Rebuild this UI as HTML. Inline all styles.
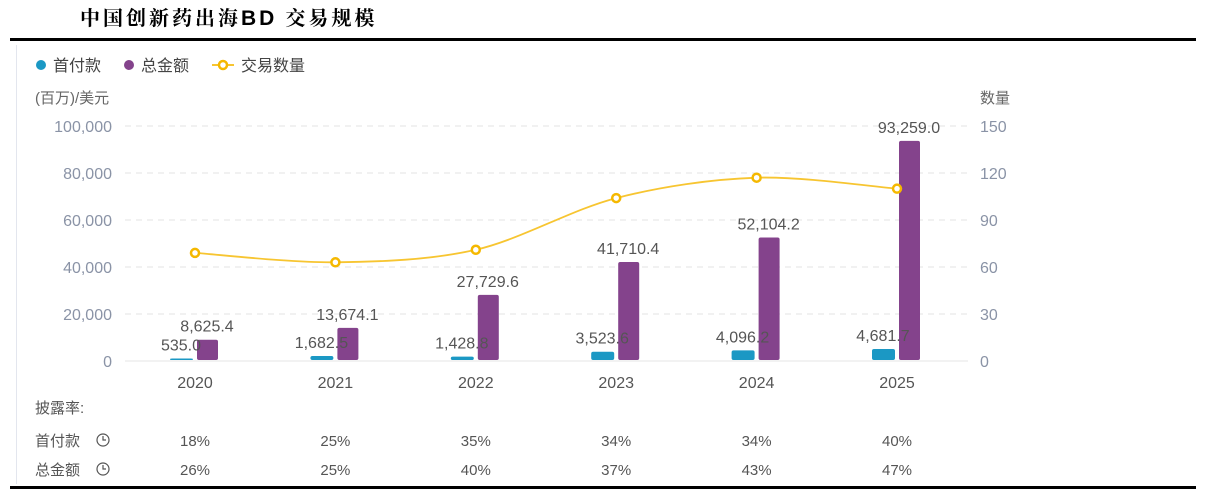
<!DOCTYPE html>
<html><head><meta charset="utf-8">
<style>
body{margin:0;width:1213px;height:497px;background:#fff;overflow:hidden;font-family:"Liberation Sans","Noto Sans CJK SC",sans-serif;}
svg text{font-family:"Liberation Sans","Noto Sans CJK SC",sans-serif;}
</style></head><body>
<svg id="c" width="1213" height="497">
<text x="80" y="25" font-size="20" font-weight="bold" fill="#000" style="font-family:'Noto Serif CJK SC',serif" letter-spacing="3">中国创新药出海<tspan style="font-family:'Liberation Sans',sans-serif" font-size="21">BD</tspan> 交易规模</text>
<rect x="10" y="38" width="1186" height="3" fill="#000"/>
<rect x="10" y="486" width="1186" height="3" fill="#000"/>
<line x1="16.5" y1="45" x2="16.5" y2="484" stroke="#e3e6ee"/>
<g font-size="16" fill="#444">
<circle cx="41" cy="65" r="5" fill="#1b98c4"/>
<text x="53" y="71">首付款</text>
<circle cx="129" cy="65" r="5" fill="#84438c"/>
<text x="141" y="71">总金额</text>
<line x1="212" y1="65" x2="234" y2="65" stroke="#f7c531" stroke-width="2"/>
<circle cx="223" cy="65" r="4" fill="#fff" stroke="#f5b800" stroke-width="2.5"/>
<text x="241" y="71">交易数量</text>
</g>
<text x="35" y="103" font-size="15" fill="#666">(百万)/美元</text>
<text x="980" y="103" font-size="15" fill="#666">数量</text>
<g id="grid"></g><g id="bars"></g><g id="line"></g><g id="labels"></g>
<g font-size="15" fill="#555">
<text x="35" y="413">披露率:</text>
<text x="35" y="446">首付款</text>
<text x="35" y="475">总金额</text>
<g fill="none" stroke="#555" stroke-width="1.2">
<circle cx="103" cy="440" r="6"/><path d="M103 436v4h3"/>
<circle cx="103" cy="469" r="6"/><path d="M103 465v4h3"/>
</g>
</g>
<g id="table"></g>
</svg>
<script>
const categories=["2020","2021","2022","2023","2024","2025"];
const downPayment=[535.0,1682.5,1428.8,3523.6,4096.2,4681.7];
const totalAmount=[8625.4,13674.1,27729.6,41710.4,52104.2,93259.0];
const dealCount=[69,63,71,104,117,110];
const leftTicks=[0,20000,40000,60000,80000,100000];
const rightTicks=[0,30,60,90,120,150];
const dpRate=["18%","25%","35%","34%","34%","40%"];
const totalRate=["26%","25%","40%","37%","43%","47%"];

const NS="http://www.w3.org/2000/svg";
const y0=361,y1=126,x0=125,x1=968;
const yL=v=>y0-(v/100000)*(y0-y1);
const yR=v=>y0-(v/150)*(y0-y1);
const xC=i=>195+i*140.4;
function mk(tag,attrs,parent,txt){const e=document.createElementNS(NS,tag);for(const k in attrs)e.setAttribute(k,attrs[k]);if(txt!==undefined)e.textContent=txt;document.getElementById(parent).appendChild(e);return e;}
const fmt=v=>v.toLocaleString('en-US',{minimumFractionDigits:1,maximumFractionDigits:1});

leftTicks.forEach((t,i)=>{
  const y=yL(t);
  const l=mk('line',{x1:x0,x2:x1,y1:y,y2:y,stroke:t===0?'#e6e6e6':'#e3e3e3','stroke-dasharray':t===0?'':'6,5'},'grid');
  
  
  const a=mk('text',{x:112,y:y+6,'text-anchor':'end','font-size':16,fill:'#8a93a6'},'grid',t.toLocaleString('en-US'));
  
  
  const b=mk('text',{x:980,y:yR(rightTicks[i])+6,'font-size':16,fill:'#8a93a6'},'grid',String(rightTicks[i]));
  
  
});

categories.forEach((c,i)=>{
  const cx=xC(i);
  const hb=Math.max(1.5,y0-yL(downPayment[i]));
  const b=mk('rect',{x:cx-25,y:y0-hb-1,width:23,height:hb,rx:2,fill:'#1b98c4'},'bars');
  
  
  const hp=y0-yL(totalAmount[i]);
  const p=mk('rect',{x:cx+2,y:y0-hp-1,width:21,height:hp,rx:2,fill:'#84438c'},'bars');
  
  
  const tl=mk('text',{x:cx+12,y:y0-hp-9,'text-anchor':'middle','font-size':16,fill:'#555'},'labels',fmt(totalAmount[i]));
  
  
  const dl=mk('text',{x:cx-14,y:y0-hb-9,'text-anchor':'middle','font-size':16,fill:'#555'},'labels',fmt(downPayment[i]));
  
  
  const xl=mk('text',{x:cx,y:388,'text-anchor':'middle','font-size':16,fill:'#555'},'labels',c);
  
  
  const r1=mk('text',{x:cx,y:446,'text-anchor':'middle','font-size':15,fill:'#555'},'table',dpRate[i]);
  
  
  const r2=mk('text',{x:cx,y:475,'text-anchor':'middle','font-size':15,fill:'#555'},'table',totalRate[i]);
  
  
});

const pts=dealCount.map((v,i)=>[xC(i),yR(v)]);
let d='M'+pts[0][0]+','+pts[0][1];
for(let i=0;i<pts.length-1;i++){
  const p0=pts[Math.max(0,i-1)],p1=pts[i],p2=pts[i+1],p3=pts[Math.min(pts.length-1,i+2)];
  const t=0.16;
  const c1=[p1[0]+(p2[0]-p0[0])*t,p1[1]+(p2[1]-p0[1])*t];
  const c2=[p2[0]-(p3[0]-p1[0])*t,p2[1]-(p3[1]-p1[1])*t];
  d+=` C${c1[0]},${c1[1]} ${c2[0]},${c2[1]} ${p2[0]},${p2[1]}`;
}
const ln=mk('path',{d:d,fill:'none',stroke:'#f7c531','stroke-width':1.8},'line');


pts.forEach((p,i)=>{
  const m=mk('circle',{cx:p[0],cy:p[1],r:4,fill:'#fff',stroke:'#f5b800','stroke-width':2.5},'line');
  
  
});
</script>
</body></html>
